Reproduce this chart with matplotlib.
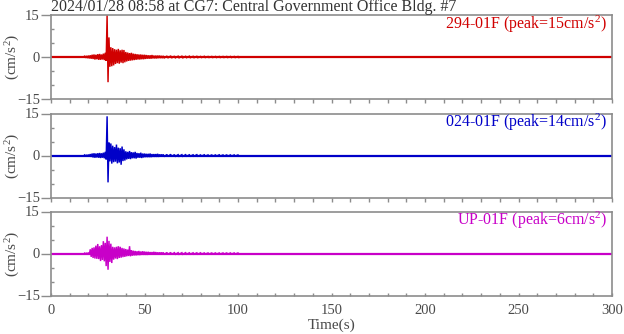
import numpy as np
import matplotlib
matplotlib.use("Agg")
import matplotlib.pyplot as plt
from matplotlib.ticker import MultipleLocator

plt.rcParams["font.family"] = ["Liberation Serif", "DejaVu Serif"]
plt.rcParams["mathtext.fontset"] = "custom"
plt.rcParams["mathtext.rm"] = "Liberation Serif"
plt.rcParams["mathtext.it"] = "Liberation Serif:italic"

TITLE = "2024/01/28 08:58 at CG7: Central Government Office Bldg. #7"
Y_LABEL = "(cm/s$^2$)"
X_LABEL = "Time(s)"
CHANNELS = ["294-01F", "024-01F", "UP-01F"]
PEAKS = [15, 14, 6]
COLORS = ["#d00000", "#0000c8", "#c800c8"]

# Envelope nodes (s): 1 s steps through the strong motion, 2 s steps
# through the coda. Outside this window the record sits at the noise floor.
t_nodes = list(range(18, 61)) + list(range(62, 101, 2))

# 294-01F: per-node maximum / minimum acceleration (cm/s^2)
ew_max = ([0.3, 0.4, 0.5, 0.6, 0.8, 0.9, 0.8, 1.0, 1.1, 0.9, 1.2, 1.5,
           15.0, 7.0, 3.5, 3.2, 2.8, 2.6, 2.9, 2.4, 2.6, 2.5, 1.8, 1.6,
           1.4, 1.5, 1.2, 1.1, 1.0, 0.9, 0.9, 0.8, 0.8, 0.7, 0.6, 0.6,
           0.7, 0.5, 0.5, 0.5, 0.5, 0.4, 0.4]
          + [0.35, 0.4, 0.3, 0.3, 0.3, 0.25, 0.3, 0.25, 0.25, 0.2,
             0.25, 0.2, 0.2, 0.2, 0.2, 0.2, 0.2, 0.2, 0.2, 0.2])
ew_min = ([-0.3, -0.4, -0.5, -0.6, -0.7, -0.9, -0.8, -1.0, -1.0, -0.9, -1.1, -1.4,
           -9.0, -3.5, -3.3, -3.0, -2.5, -2.2, -2.4, -2.0, -2.2, -1.9, -1.6, -1.4,
           -1.3, -1.2, -1.1, -1.0, -0.9, -0.9, -0.8, -0.8, -0.7, -0.6, -0.6, -0.6,
           -0.5, -0.5, -0.5, -0.4, -0.4, -0.4, -0.4]
          + [-0.35, -0.35, -0.3, -0.3, -0.3, -0.25, -0.25, -0.25, -0.25, -0.2,
             -0.2, -0.2, -0.2, -0.2, -0.2, -0.2, -0.2, -0.2, -0.2, -0.2])

# 024-01F
ns_max = ([0.2, 0.2, 0.3, 0.5, 0.7, 0.8, 0.7, 0.8, 0.9, 0.8, 1.0, 1.3,
           14.0, 4.6, 4.3, 3.5, 3.0, 3.9, 2.8, 2.6, 3.2, 2.2, 1.5, 1.3,
           1.6, 1.2, 1.1, 1.3, 0.9, 0.8, 1.0, 0.7, 0.7, 0.6, 0.6, 0.7,
           0.5, 0.5, 0.5, 0.6, 0.4, 0.4, 0.4]
          + [0.35, 0.4, 0.3, 0.3, 0.3, 0.3, 0.25, 0.25, 0.3, 0.2,
             0.25, 0.2, 0.2, 0.2, 0.25, 0.2, 0.2, 0.2, 0.2, 0.2])
ns_min = ([-0.2, -0.2, -0.3, -0.5, -0.7, -0.8, -0.7, -0.8, -0.9, -0.8, -1.0, -1.4,
           -9.6, -2.1, -2.9, -2.4, -2.2, -2.8, -2.5, -3.3, -2.0, -1.8, -1.4, -1.2,
           -1.3, -1.0, -1.0, -1.1, -0.8, -0.8, -0.9, -0.7, -0.6, -0.6, -0.6, -0.6,
           -0.5, -0.5, -0.5, -0.5, -0.4, -0.4, -0.4]
          + [-0.35, -0.35, -0.3, -0.3, -0.3, -0.25, -0.25, -0.25, -0.25, -0.2,
             -0.2, -0.2, -0.2, -0.2, -0.2, -0.2, -0.2, -0.2, -0.2, -0.2])

# UP-01F
ud_max = ([0.15, 0.2, 0.3, 1.5, 2.0, 2.2, 2.8, 3.4, 2.6, 3.0, 4.4, 3.8,
           6.0, 4.5, 3.5, 2.4, 2.2, 2.4, 2.6, 2.4, 2.0, 1.8, 1.6, 1.4,
           2.6, 1.2, 1.0, 0.9, 0.8, 0.9, 0.7, 0.8, 0.7, 0.6, 0.6, 0.5,
           0.5, 0.6, 0.5, 0.4, 0.4, 0.4, 0.4]
          + [0.35, 0.35, 0.3, 0.3, 0.3, 0.3, 0.25, 0.25, 0.25, 0.25,
             0.2, 0.2, 0.2, 0.2, 0.2, 0.2, 0.2, 0.2, 0.2, 0.2])
ud_min = ([-0.15, -0.2, -0.3, -1.2, -1.6, -1.8, -1.9, -2.0, -2.7, -2.3, -2.8, -4.5,
           -5.8, -3.0, -3.4, -2.2, -1.8, -2.0, -1.6, -1.5, -1.3, -1.2, -1.0, -0.9,
           -1.0, -0.8, -0.7, -0.7, -0.6, -0.6, -0.5, -0.5, -0.5, -0.5, -0.4, -0.4,
           -0.4, -0.4, -0.4, -0.4, -0.35, -0.35, -0.35]
          + [-0.3, -0.3, -0.3, -0.3, -0.3, -0.25, -0.25, -0.25, -0.25, -0.2,
             -0.2, -0.2, -0.2, -0.2, -0.2, -0.2, -0.2, -0.2, -0.2, -0.2])

series = [(ew_max, ew_min), (ns_max, ns_min), (ud_max, ud_min)]

SPINE = "#8c8c8c"
TICK_TXT = "#4a4a4a"

fig = plt.figure(figsize=(6.24, 3.34), dpi=100)
left, width, height = 51 / 624, 561 / 624, 84 / 334
bottoms = [1 - 99 / 334, 1 - 197.5 / 334, 1 - 295.5 / 334]

t = np.asarray(t_nodes, dtype=float)
for i, (ch, pk, col, (hi, lo)) in enumerate(zip(CHANNELS, PEAKS, COLORS, series)):
    ax = fig.add_axes([left, bottoms[i], width, height])
    hi = np.asarray(hi)
    lo = np.asarray(lo)
    # noise-floor baseline across the whole record
    ax.axhline(0, color=col, lw=1.6, zorder=1)
    # alternate each node's maximum and minimum to trace the oscillation
    xs = np.column_stack([t, t + 0.5]).ravel()
    ys = np.column_stack([hi, lo]).ravel()
    ax.plot(xs, ys, color=col, lw=1.05, solid_joinstyle="miter", zorder=2)

    ax.set_xlim(0, 300)
    ax.set_ylim(-15, 15)
    ax.set_yticks([-15, 0, 15])
    ax.yaxis.set_minor_locator(MultipleLocator(5))
    ax.xaxis.set_major_locator(MultipleLocator(50))
    ax.xaxis.set_minor_locator(MultipleLocator(10))
    for s in ax.spines.values():
        s.set_color(SPINE)
        s.set_linewidth(1.2)

    ax.tick_params(axis="y", which="major", direction="out", length=7,
                   width=1.0, color=SPINE, labelcolor=TICK_TXT, labelsize=10.5, pad=1)
    ax.tick_params(axis="y", which="minor", direction="in", length=2.5,
                   width=1.0, color=SPINE)
    if i < 2:
        ax.tick_params(axis="x", which="both", direction="out", length=3,
                       width=1.0, color=SPINE, labelbottom=False)
    else:
        ax.tick_params(axis="x", which="major", direction="in", length=2,
                       width=1.0, color=SPINE, labelcolor=TICK_TXT, labelsize=10.5, pad=6)
        ax.tick_params(axis="x", which="minor", direction="in", length=2,
                       width=1.0, color=SPINE)
        ax.set_xlabel(X_LABEL, color=TICK_TXT, fontsize=11, labelpad=1)

    ax.set_ylabel(Y_LABEL, color=TICK_TXT, fontsize=11)
    ax.yaxis.set_label_coords(-29 / 561, 0.5)
    ax.text(0.991, 0.835, f"{ch} (peak={pk}cm/s$^2$)", transform=ax.transAxes,
            ha="right", va="baseline", color=col, fontsize=11.5)

fig.text(51 / 624, 1 - 11 / 334, TITLE, ha="left", va="baseline",
         color="#333333", fontsize=11.5)

fig.savefig("out.png", dpi=100)
